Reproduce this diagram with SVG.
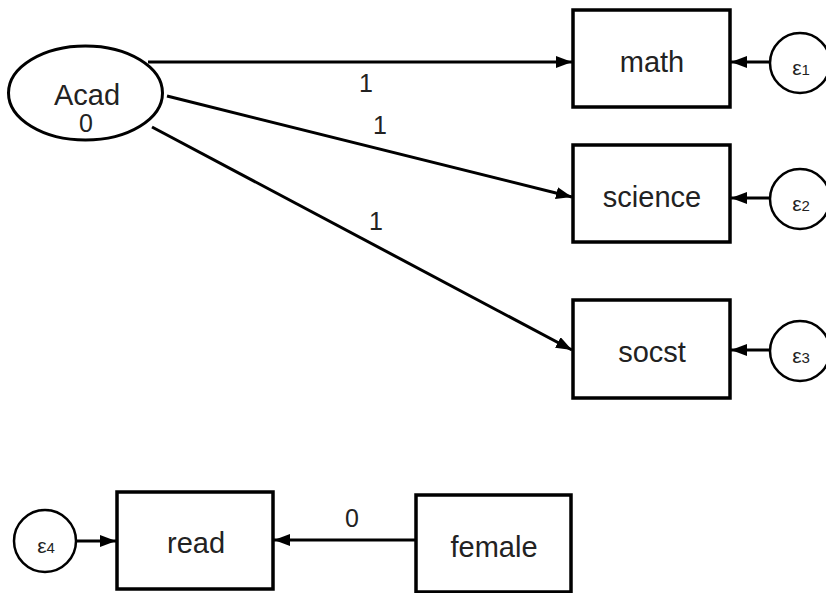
<svg xmlns="http://www.w3.org/2000/svg" width="826" height="593" viewBox="0 0 826 593">
  <style>
    .box { fill: #ffffff; stroke: #000000; stroke-width: 3.5; }
    .lat { fill: #ffffff; stroke: #000000; stroke-width: 3; }
    .err { fill: #ffffff; stroke: #000000; stroke-width: 2.5; }
    .edge { fill: none; stroke: #000000; stroke-width: 3; }
    .lbl { font-family: "Liberation Sans", Arial, sans-serif; font-size: 29px; fill: #222222; text-anchor: middle; }
    .num { font-family: "Liberation Sans", Arial, sans-serif; font-size: 25px; fill: #222222; text-anchor: middle; }
    .eps { font-family: "Liberation Sans", Arial, sans-serif; font-size: 21px; fill: #222222; text-anchor: middle; }
    .sub { font-size: 15px; }
  </style>
  <defs>
    <marker id="arrow" markerUnits="userSpaceOnUse" markerWidth="16" markerHeight="12" refX="16" refY="6" orient="auto">
      <path d="M0,0 L16,6 L0,12 z" fill="#000000"/>
    </marker>
  </defs>

  <rect width="826" height="593" fill="#ffffff"/>

  <!-- connectors -->
  <g id="connectors">
    <line class="edge" x1="148" y1="62" x2="572" y2="62" marker-end="url(#arrow)"/>
    <line class="edge" x1="167" y1="96" x2="572" y2="197" marker-end="url(#arrow)"/>
    <line class="edge" x1="152" y1="127" x2="572" y2="350" marker-end="url(#arrow)"/>
    <line class="edge" x1="770" y1="62" x2="731" y2="62" marker-end="url(#arrow)"/>
    <line class="edge" x1="770" y1="198" x2="731" y2="198" marker-end="url(#arrow)"/>
    <line class="edge" x1="770" y1="350" x2="731" y2="350" marker-end="url(#arrow)"/>
    <line class="edge" x1="76" y1="541" x2="116" y2="541" marker-end="url(#arrow)"/>
    <line class="edge" x1="416" y1="540" x2="274" y2="540" marker-end="url(#arrow)"/>
    <text class="num" x="366" y="92">1</text>
    <text class="num" x="380" y="134">1</text>
    <text class="num" x="376" y="230">1</text>
    <text class="num" x="352" y="527">0</text>
  </g>

  <!-- latent variable -->
  <g id="Acad">
    <ellipse class="lat" cx="85.5" cy="93" rx="77" ry="47"/>
    <text class="lbl" x="87" y="105">Acad</text>
    <text class="num" x="86" y="132">0</text>
  </g>

  <!-- observed variables -->
  <g id="math">
    <rect class="box" x="573" y="10" width="157" height="97"/>
    <text class="lbl" x="652" y="72">math</text>
  </g>
  <g id="science">
    <rect class="box" x="573" y="145" width="157" height="97"/>
    <text class="lbl" x="652" y="207">science</text>
  </g>
  <g id="socst">
    <rect class="box" x="573" y="300" width="157" height="98"/>
    <text class="lbl" x="652" y="362">socst</text>
  </g>
  <g id="read">
    <rect class="box" x="117" y="492" width="156" height="97"/>
    <text class="lbl" x="196" y="553">read</text>
  </g>
  <g id="female">
    <rect class="box" x="416" y="495" width="155" height="97"/>
    <text class="lbl" x="494" y="557">female</text>
  </g>

  <!-- error terms -->
  <g id="e1">
    <circle class="err" cx="800" cy="63" r="30"/>
    <text class="eps" x="801" y="75">ε<tspan class="sub">1</tspan></text>
  </g>
  <g id="e2">
    <circle class="err" cx="800" cy="199" r="30"/>
    <text class="eps" x="801" y="211">ε<tspan class="sub">2</tspan></text>
  </g>
  <g id="e3">
    <circle class="err" cx="800" cy="351" r="30"/>
    <text class="eps" x="801" y="363">ε<tspan class="sub">3</tspan></text>
  </g>
  <g id="e4">
    <circle class="err" cx="45" cy="541" r="31"/>
    <text class="eps" x="46" y="553">ε<tspan class="sub">4</tspan></text>
  </g>
</svg>
